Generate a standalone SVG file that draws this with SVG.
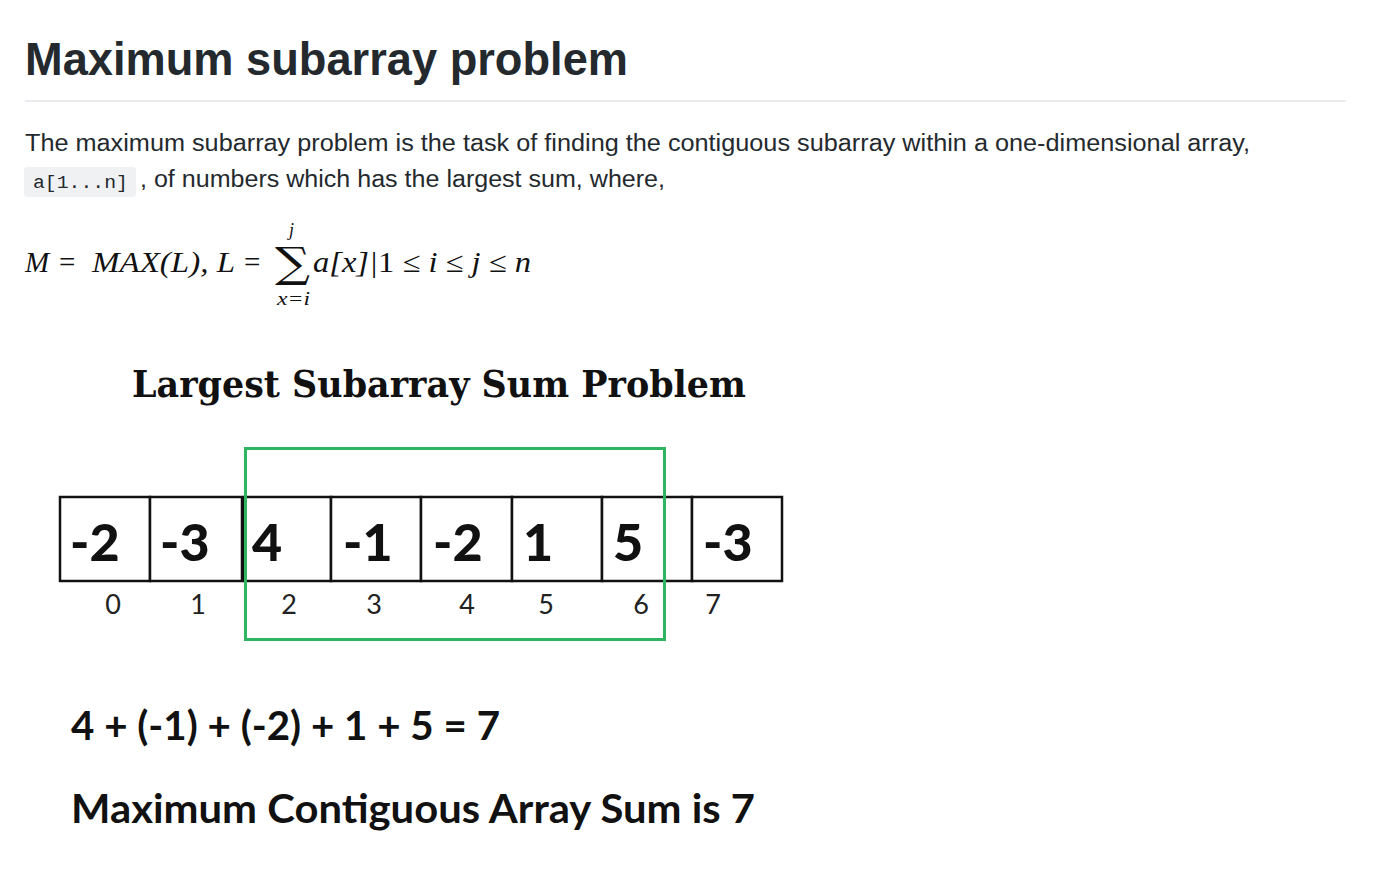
<svg xmlns="http://www.w3.org/2000/svg" width="1400" height="887" viewBox="0 0 1400 887">
<style>
.h1{font-family:"Liberation Sans",Arial,sans-serif;font-weight:bold;font-size:46px;fill:#24292e}
.p{font-family:"Liberation Sans",Arial,sans-serif;font-size:23px;fill:#24292e}
.code{font-family:"Liberation Mono",monospace;font-size:19px;fill:#24292e}
.m{font-family:"Liberation Serif",serif;font-style:italic;font-size:29px;fill:#111}
.mr{font-family:"Liberation Serif",serif;font-style:normal;font-size:29px;fill:#111}
.sig{font-family:"DejaVu Serif",serif;font-size:42px;fill:#111}
.ms{font-family:"Liberation Serif",serif;font-style:italic;font-size:18px;fill:#111}
.t{font-family:"DejaVu Serif",serif;font-weight:bold;font-size:37px;fill:#111}
.cell{fill:#fff;stroke:#111;stroke-width:2.5}
.v{font-family:Lato,"Open Sans",sans-serif;font-weight:900;font-size:52px;fill:#111}
.i{font-family:Lato,"Open Sans",sans-serif;font-size:27px;fill:#222}
.b{font-family:Lato,"Open Sans",sans-serif;font-weight:bold;font-size:40px;fill:#111}
</style>
<rect width="1400" height="887" fill="#fff"/>
<text class="h1" x="25" y="75" textLength="603" lengthAdjust="spacingAndGlyphs">Maximum subarray problem</text>
<rect x="25" y="100" width="1321" height="2" fill="#eaecef"/>
<text class="p" x="25" y="151" textLength="1225" lengthAdjust="spacingAndGlyphs">The maximum subarray problem is the task of finding the contiguous subarray within a one-dimensional array,</text>
<rect x="24" y="167" width="112" height="30" rx="3" fill="#f0f1f2"/>
<text class="code" x="33" y="188" textLength="95" lengthAdjust="spacingAndGlyphs">a[1...n]</text>
<text class="p" x="140" y="187" textLength="525" lengthAdjust="spacingAndGlyphs">, of numbers which has the largest sum, where,</text>
<g id="formula">
<text class="m" x="25" y="272">M</text>
<text class="mr" x="59" y="272">=</text>
<text class="m" x="92" y="272" textLength="143" lengthAdjust="spacingAndGlyphs">MAX(L), L</text>
<text class="mr" x="244" y="272">=</text>
<text class="sig" x="275" y="277" textLength="35" lengthAdjust="spacingAndGlyphs">∑</text>
<text class="ms" x="289" y="236">j</text>
<text class="ms" x="277" y="305" textLength="33" lengthAdjust="spacingAndGlyphs">x=i</text>
<text class="m" x="313" y="272" textLength="218" lengthAdjust="spacingAndGlyphs">a[x]|<tspan class="mr">1</tspan> ≤ i ≤ j ≤ n</text>
</g>
<text class="t" x="132" y="397" textLength="614" lengthAdjust="spacingAndGlyphs">Largest  Subarray  Sum  Problem</text>
<g id="array">
<rect class="cell" x="60" y="497" width="90" height="84"/>
<rect class="cell" x="150" y="497" width="92" height="84"/>
<rect class="cell" x="244" y="497" width="87" height="84"/>
<rect class="cell" x="331" y="497" width="90" height="84"/>
<rect class="cell" x="421" y="497" width="91" height="84"/>
<rect class="cell" x="512" y="497" width="90" height="84"/>
<rect class="cell" x="602" y="497" width="90" height="84"/>
<rect class="cell" x="692" y="497" width="90" height="84"/>
<text class="v" x="70" y="561">-2</text>
<text class="v" x="160" y="561">-3</text>
<text class="v" x="252" y="561">4</text>
<text class="v" x="343" y="561">-1</text>
<text class="v" x="433" y="561">-2</text>
<text class="v" x="523" y="561">1</text>
<text class="v" x="613" y="561">5</text>
<text class="v" x="703" y="561">-3</text>
<text class="i" x="113" y="614" text-anchor="middle">0</text>
<text class="i" x="198" y="614" text-anchor="middle">1</text>
<text class="i" x="289" y="614" text-anchor="middle">2</text>
<text class="i" x="374" y="614" text-anchor="middle">3</text>
<text class="i" x="467" y="614" text-anchor="middle">4</text>
<text class="i" x="546" y="614" text-anchor="middle">5</text>
<text class="i" x="641" y="614" text-anchor="middle">6</text>
<text class="i" x="713" y="614" text-anchor="middle">7</text>
</g>
<g id="highlight">
<rect x="245.5" y="448.5" width="419" height="191" fill="none" stroke="#2db560" stroke-width="3"/>
</g>
<text class="b" x="71" y="740" textLength="429" lengthAdjust="spacingAndGlyphs">4 + (-1) + (-2) + 1 + 5 = 7</text>
<text class="b" x="71" y="823" textLength="684" lengthAdjust="spacingAndGlyphs">Maximum Contiguous Array Sum is 7</text>
</svg>
